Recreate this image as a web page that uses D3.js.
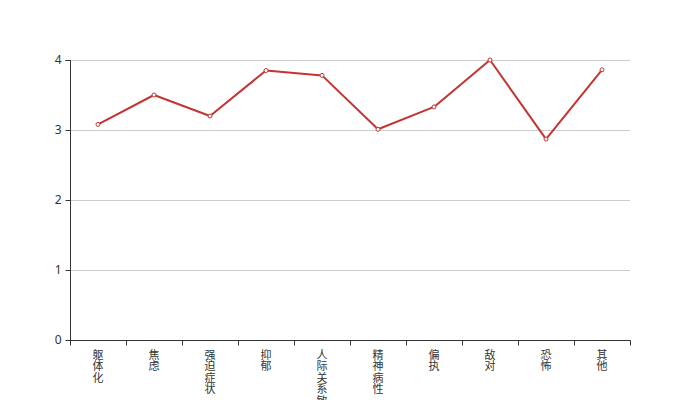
<!DOCTYPE html>
<html><head><meta charset="utf-8">
<script src="https://cdn.jsdelivr.net/npm/d3@7"></script>
<style>body{margin:0;background:#fff;}svg{display:block;font-family:"Noto Sans CJK SC",sans-serif;}</style>
</head><body><svg id="c" width="700" height="400"></svg>
<script>
const categories = ["躯体化","焦虑","强迫症状","抑郁","人际关系敏感","精神病性","偏执","敌对","恐怖","其他"];
const values = [3.08, 3.50, 3.20, 3.85, 3.78, 3.01, 3.33, 4.00, 2.87, 3.86];
const yTicks = [0,1,2,3,4];

(function(){
const svg = d3.select("#c");
const mLeft = 70, mRight = 630, mTop = 60, mBottom = 340;
const x = d3.scaleBand().domain(categories).range([mLeft, mRight]);
const y = d3.scaleLinear().domain([0,4]).range([mBottom, mTop]);

// grid
svg.append("g").selectAll("line").data(yTicks.filter(d=>d>0)).join("line")
  .attr("x1", mLeft).attr("x2", mRight)
  .attr("y1", d=>Math.round(y(d))+0.5).attr("y2", d=>Math.round(y(d))+0.5)
  .attr("stroke", "#ccc").attr("stroke-width", 1);

// y axis
const yAxis = svg.append("g").attr("transform", `translate(${mLeft+0.5},0)`)
  .call(d3.axisLeft(y).tickValues(yTicks).tickSize(5).tickPadding(4).tickFormat(d3.format("d")));
yAxis.select(".domain").attr("stroke", "#333").attr("d", `M-5,${mTop+0.5}H0V${mBottom+0.5}`);
yAxis.selectAll(".tick line").attr("stroke", "#333");
yAxis.selectAll(".tick text").attr("fill", "#333").attr("font-size", 12).attr("font-family", "Noto Sans, sans-serif");

// x axis
const xg = svg.append("g").attr("transform", `translate(0,${mBottom+0.5})`);
xg.append("line").attr("x1", mLeft).attr("x2", mRight+0.5).attr("stroke", "#333");
const bounds = categories.map(c=>x(c)).concat([mRight]);
xg.selectAll("line.tk").data(bounds).join("line").attr("class","tk")
  .attr("x1", d=>Math.round(d)+0.5).attr("x2", d=>Math.round(d)+0.5)
  .attr("y1", 0).attr("y2", 5).attr("stroke", "#333");
const lab = xg.selectAll("text").data(categories).join("text")
  .attr("transform", d=>`translate(${x(d)+x.bandwidth()/2},0)`)
  .attr("text-anchor", "middle").attr("fill", "#333").attr("font-size", 11);
lab.each(function(d){
  const t = d3.select(this);
  Array.from(d).forEach((ch,i)=>{
    t.append("tspan").attr("x", 0).attr("y", 18 + i*11.5).text(ch);
  });
});

// line
const line = d3.line().x((d,i)=>x(categories[i])+x.bandwidth()/2).y(d=>y(d));
svg.append("path").datum(values).attr("d", line)
  .attr("fill", "none").attr("stroke", "#c23531").attr("stroke-width", 2).attr("stroke-linejoin","round");
svg.append("g").selectAll("circle").data(values).join("circle")
  .attr("cx", (d,i)=>x(categories[i])+x.bandwidth()/2).attr("cy", d=>y(d)).attr("r", 2)
  .attr("fill", "#fff").attr("stroke", "#c23531").attr("stroke-width", 1);
})();
</script></body></html>
